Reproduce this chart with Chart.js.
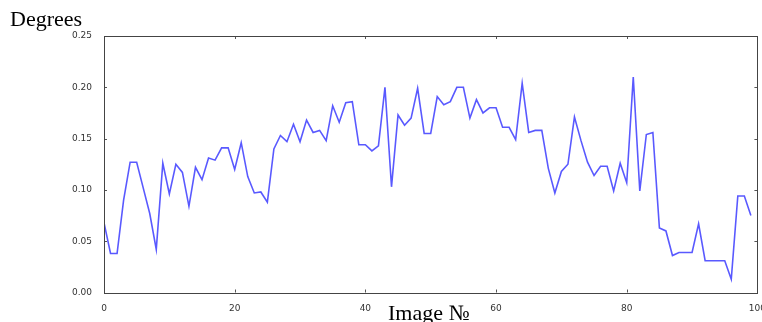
<!DOCTYPE html>
<html>
<head>
<meta charset="utf-8">
<script src="https://cdn.jsdelivr.net/npm/chart.js@4"></script>
<style>
  html, body { margin: 0; padding: 0; background: #fff; }
  #wrap { position: relative; width: 762px; height: 322px; overflow: hidden; }
  #chart { position: absolute; left: 0; top: 0; }
  .lbl { position: absolute; font-family: "Liberation Serif", serif; font-size: 22px; color: #000; white-space: nowrap; line-height: 1; }
</style>
</head>
<body>
<div id="wrap">
  <canvas id="chart" width="769" height="322"></canvas>
  <div class="lbl" id="ylab" style="left:10px; top:8px;">Degrees</div>
  <div class="lbl" id="xlab" style="left:388px; top:302px;">Image №</div>
</div>
<script>
// valeurs (une par image, index 0..99)
const degrees = [
  0.068, 0.038, 0.038, 0.090, 0.127, 0.127, 0.102, 0.077, 0.042, 0.126,
  0.096, 0.125, 0.117, 0.084, 0.122, 0.110, 0.131, 0.129, 0.141, 0.141,
  0.120, 0.146, 0.113, 0.097, 0.098, 0.088, 0.140, 0.153, 0.147, 0.164,
  0.147, 0.168, 0.156, 0.158, 0.148, 0.182, 0.166, 0.185, 0.186, 0.144,
  0.144, 0.138, 0.143, 0.200, 0.103, 0.173, 0.163, 0.170, 0.199, 0.155,
  0.155, 0.191, 0.183, 0.186, 0.200, 0.200, 0.170, 0.188, 0.175, 0.180,
  0.180, 0.161, 0.161, 0.149, 0.204, 0.156, 0.158, 0.158, 0.121, 0.097,
  0.118, 0.125, 0.171, 0.148, 0.127, 0.114, 0.123, 0.123, 0.099, 0.126,
  0.107, 0.210, 0.099, 0.154, 0.156, 0.063, 0.060, 0.036, 0.039, 0.039,
  0.039, 0.067, 0.031, 0.031, 0.031, 0.031, 0.013, 0.094, 0.094, 0.075
];
const xTicks = [0, 20, 40, 60, 80, 100];
const yTicks = [0.00, 0.05, 0.10, 0.15, 0.20, 0.25];

const points = degrees.map((v, i) => ({ x: i, y: v }));

// ticks vers l'intérieur sur les quatre côtés + cadre
const frameTicks = {
  id: 'frameTicks',
  afterDatasetsDraw(chart) {
    const { ctx, chartArea: a, scales } = chart;
    ctx.save();
    ctx.strokeStyle = '#555';
    ctx.lineWidth = 1;
    ctx.beginPath();
    xTicks.forEach(t => {
      const px = Math.round(scales.x.getPixelForValue(t)) + 0.5;
      ctx.moveTo(px, a.bottom); ctx.lineTo(px, a.bottom - 3);
      ctx.moveTo(px, a.top); ctx.lineTo(px, a.top + 3);
    });
    yTicks.forEach(t => {
      const py = Math.round(scales.y.getPixelForValue(t)) + 0.5;
      ctx.moveTo(a.left, py); ctx.lineTo(a.left + 3, py);
      ctx.moveTo(a.right, py); ctx.lineTo(a.right - 3, py);
    });
    ctx.stroke();
    ctx.strokeStyle = '#444';
    ctx.strokeRect(Math.round(a.left) + 0.5, Math.round(a.top) + 0.5,
      Math.round(a.right - a.left), Math.round(a.bottom - a.top));
    ctx.restore();
  }
};

new Chart(document.getElementById('chart'), {
  type: 'line',
  data: {
    datasets: [{
      data: points,
      borderColor: 'rgba(0, 0, 255, 0.65)',
      borderWidth: 1.6,
      pointRadius: 0,
      tension: 0,
      fill: false
    }]
  },
  options: {
    responsive: false,
    animation: false,
    layout: { padding: { top: 36, right: 5, left: 0, bottom: 0 } },
    plugins: { legend: { display: false }, tooltip: { enabled: false } },
    scales: {
      x: {
        type: 'linear',
        min: 0, max: 100,
        afterFit: s => { s.height = 29.5; },
        afterBuildTicks: s => { s.ticks = xTicks.map(v => ({ value: v })); },
        grid: { display: false },
        border: { display: false },
        ticks: {
          color: '#333',
          font: { family: 'DejaVu Sans', size: 9 },
          padding: 3,
          maxRotation: 0,
          callback: v => String(v)
        }
      },
      y: {
        min: 0, max: 0.25,
        afterFit: s => { s.width = 104; },
        afterBuildTicks: s => { s.ticks = yTicks.map(v => ({ value: v })); },
        grid: { display: false },
        border: { display: false },
        ticks: {
          color: '#333',
          font: { family: 'DejaVu Sans', size: 9 },
          padding: 4,
          callback: v => v.toFixed(2)
        }
      }
    }
  },
  plugins: [frameTicks]
});
</script>
</body>
</html>
